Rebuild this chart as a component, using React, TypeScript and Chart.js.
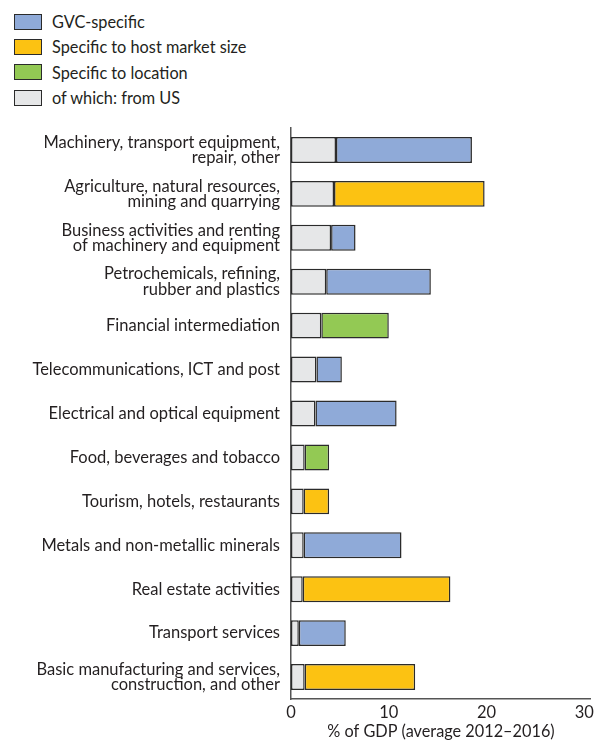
import React, { useEffect, useRef } from "react";
import { Chart, registerables } from "chart.js";
Chart.register(...registerables);

const categories: string[][] = [
  ["Machinery, transport equipment,", "repair, other"],
  ["Agriculture, natural resources,", "mining and quarrying"],
  ["Business activities and renting", "of machinery and equipment"],
  ["Petrochemicals, refining,", "rubber and plastics"],
  ["Financial intermediation"],
  ["Telecommunications, ICT and post"],
  ["Electrical and optical equipment"],
  ["Food, beverages and tobacco"],
  ["Tourism, hotels, restaurants"],
  ["Metals and non-metallic minerals"],
  ["Real estate activities"],
  ["Transport services"],
  ["Basic manufacturing and services,", "construction, and other"],
];

// share from US (% of GDP)
const fromUS = [4.6, 4.4, 4.1, 3.6, 3.1, 2.6, 2.5, 1.4, 1.3, 1.3, 1.2, 0.8, 1.4];
// remaining part by type (null where not applicable)
const gvcSpecific = [13.9, null, 2.5, 10.7, null, 2.6, 8.3, null, null, 10.0, null, 4.8, null];
const hostMarket = [null, 15.4, null, null, null, null, null, null, 2.6, null, 15.1, null, 11.3];
const locationSpecific = [null, null, null, null, 6.9, null, null, 2.5, null, null, null, null, null];

const xTicks = [0, 10, 20, 30];

const legendItems = [
  { label: "GVC-specific", color: "#8FAAD8" },
  { label: "Specific to host market size", color: "#FCC212" },
  { label: "Specific to location", color: "#93C954" },
  { label: "of which: from US", color: "#E6E7E8" },
];

const FONT = "Lato, 'Open Sans', sans-serif";
const TEXT = "#231F20";
const BORDER = "#2B2B2B";

export default function App() {
  const ref = useRef<HTMLCanvasElement | null>(null);
  useEffect(() => {
    if (!ref.current) return;
    const mk = (label: string, data: (number | null)[], color: string) => ({
      label,
      data,
      backgroundColor: color,
      borderColor: BORDER,
      borderWidth: 1.5,
      borderSkipped: false as const,
      barPercentage: 0.59,
      categoryPercentage: 1,
    });
    const chart = new Chart(ref.current, {
      type: "bar",
      data: {
        labels: categories,
        datasets: [
          mk("of which: from US", fromUS, "#E6E7E8"),
          mk("GVC-specific", gvcSpecific, "#8FAAD8"),
          mk("Specific to host market size", hostMarket, "#FCC212"),
          mk("Specific to location", locationSpecific, "#93C954"),
        ],
      },
      options: {
        indexAxis: "y",
        animation: false,
        responsive: false,
        maintainAspectRatio: false,
        layout: { padding: { left: 0, right: 3, top: 128, bottom: 0 } },
        plugins: { legend: { display: false }, tooltip: { enabled: false } },
        scales: {
          x: {
            stacked: true,
            min: 0,
            max: 30.67,
            afterBuildTicks: (scale: any) => {
              scale.ticks = xTicks.map((v) => ({ value: v }));
            },
            grid: { display: false, drawTicks: false },
            border: { display: true, color: "#555", width: 1.5 },
            ticks: {
              color: TEXT,
              font: { family: FONT, size: 16.5 },
              padding: 4,
              maxRotation: 0,
            },
            title: {
              display: true,
              text: "% of GDP (average 2012–2016)",
              color: TEXT,
              font: { family: FONT, size: 16.3 },
              padding: { top: 0, bottom: 0 },
            },
            afterFit: (scale: any) => {
              scale.height = 43;
            },
          },
          y: {
            stacked: true,
            grid: { display: false, drawTicks: false },
            border: { display: true, color: "#555", width: 1.5 },
            ticks: {
              color: TEXT,
              font: { family: FONT, size: 16.5, lineHeight: 0.92 },
              padding: 11,
              autoSkip: false,
            },
            afterFit: (scale: any) => {
              scale.width = 291;
            },
          },
        },
      },
    });
    return () => chart.destroy();
  }, []);

  return (
    <div style={{ position: "absolute", left: 0, top: 0, width: 598, height: 742, background: "#fff", overflow: "hidden" }}>
      <div style={{ position: "absolute", left: 14, top: 9, fontFamily: FONT, fontSize: 16.3, color: TEXT }}>
        {legendItems.map((it) => (
          <div key={it.label} style={{ display: "flex", alignItems: "center", height: 25.3 }}>
            <div
              style={{
                width: 26,
                height: 14,
                background: it.color,
                border: `1.5px solid ${BORDER}`,
                marginRight: 10,
              }}
            />
            <span>{it.label}</span>
          </div>
        ))}
      </div>
      <canvas ref={ref} width={598} height={742} style={{ position: "absolute", left: 0, top: 0 }} />
    </div>
  );
}
